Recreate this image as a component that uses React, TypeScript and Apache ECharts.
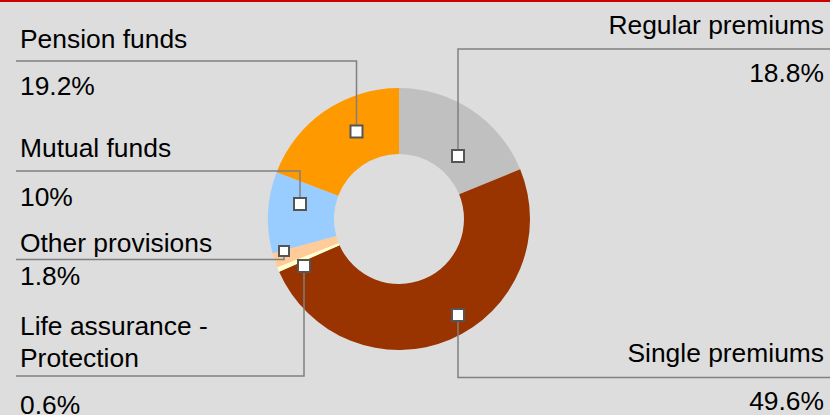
import React, { useEffect, useRef } from "react";
import * as echarts from "echarts";

const categories = [
  "Regular premiums",
  "Single premiums",
  "Life assurance -\nProtection",
  "Other provisions",
  "Mutual funds",
  "Pension funds",
];
const shares = [18.8, 49.6, 0.6, 1.8, 10, 19.2];
const sliceColors = ["#c0c0c0", "#993300", "#ffffcc", "#ffcc99", "#99ccff", "#ff9900"];

// label layout (annotation placement only)
type LabelLayout = {
  ax: number; ay: number; elbowY: number; endX: number; box: number;
  tx: number; align: "left" | "right"; nameY: number; valueY: number;
};
const labelLayouts: LabelLayout[] = [
  { ax: 458, ay: 156, elbowY: 49, endX: 830, box: 12, tx: 824, align: "right", nameY: 25, valueY: 73 },
  { ax: 458, ay: 315, elbowY: 377.5, endX: 830, box: 12, tx: 824, align: "right", nameY: 353, valueY: 401 },
  { ax: 304, ay: 266, elbowY: 376, endX: 16, box: 12, tx: 20, align: "left", nameY: 326, valueY: 405 },
  { ax: 284, ay: 251, elbowY: 259.5, endX: 16, box: 10, tx: 20, align: "left", nameY: 243, valueY: 276 },
  { ax: 300, ay: 204, elbowY: 171, endX: 16, box: 12, tx: 20, align: "left", nameY: 148, valueY: 197 },
  { ax: 356.5, ay: 131.5, elbowY: 61, endX: 16, box: 12, tx: 20, align: "left", nameY: 39, valueY: 86 },
];

const FONT = '26.4px "Liberation Sans", Arial, sans-serif';

export default function App() {
  const ref = useRef<HTMLDivElement>(null);
  useEffect(() => {
    document.body.style.margin = "0";
    if (!ref.current) return;
    const chart = echarts.init(ref.current, undefined, { renderer: "svg" });

    const graphics: any[] = [
      { type: "rect", shape: { x: 0, y: 0, width: 830, height: 2 }, style: { fill: "#cc0000" }, z: 10 },
    ];
    categories.forEach((name, i) => {
      const L = labelLayouts[i];
      graphics.push({
        type: "polyline",
        shape: { points: [[L.ax, L.ay], [L.ax, L.elbowY], [L.endX, L.elbowY]] },
        style: { stroke: "#808080", lineWidth: 1.5, fill: "none" },
        z: 10,
      });
      graphics.push({
        type: "rect",
        shape: { x: L.ax - L.box / 2, y: L.ay - L.box / 2, width: L.box, height: L.box },
        style: { fill: "#ffffff", stroke: "#555555", lineWidth: 2 },
        z: 11,
      });
      const lines = name.split("\n");
      lines.forEach((ln, k) => {
        graphics.push({
          type: "text",
          x: L.tx,
          y: L.nameY + k * 32,
          style: {
            text: ln, font: FONT, fill: "#000000",
            textAlign: L.align, align: L.align,
            textVerticalAlign: "middle", verticalAlign: "middle",
          },
          z: 12,
        });
      });
      graphics.push({
        type: "text",
        x: L.tx,
        y: L.valueY,
        style: {
          text: `${shares[i]}%`, font: FONT, fill: "#000000",
          textAlign: L.align, align: L.align,
          textVerticalAlign: "middle", verticalAlign: "middle",
        },
        z: 12,
      });
    });

    chart.setOption({
      animation: false,
      backgroundColor: "#dddddd",
      series: [
        {
          type: "pie",
          center: [399, 219],
          radius: [65, 131],
          startAngle: 90,
          clockwise: true,
          silent: true,
          label: { show: false },
          labelLine: { show: false },
          itemStyle: { borderWidth: 0 },
          data: categories.map((c, i) => ({
            name: c,
            value: shares[i],
            itemStyle: { color: sliceColors[i] },
          })),
        },
      ],
      graphic: graphics,
    });
    return () => chart.dispose();
  }, []);
  return <div ref={ref} style={{ width: 830, height: 415 }} />;
}
